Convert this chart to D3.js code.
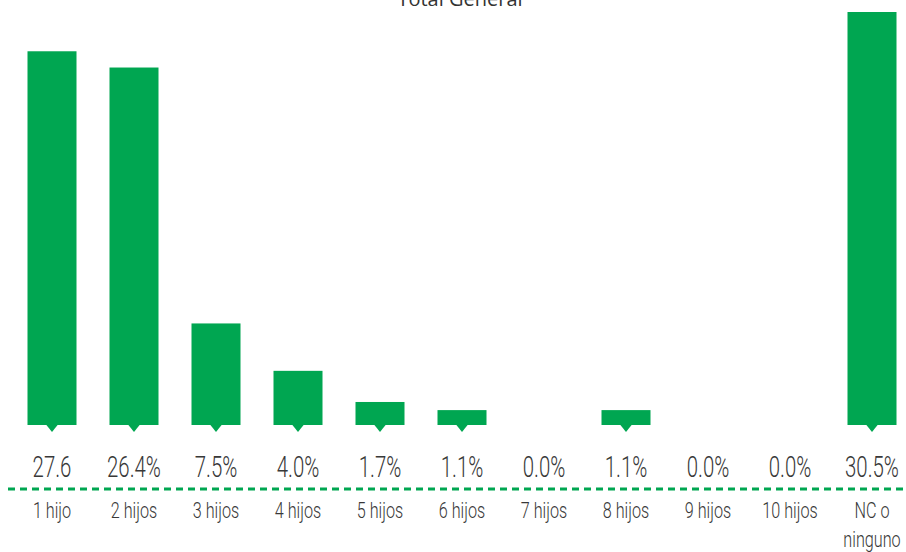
<!DOCTYPE html>
<html><head><meta charset="utf-8">
<script src="https://cdn.jsdelivr.net/npm/d3@7"></script>
<style>body{margin:0;background:#fff}svg{display:block}</style>
</head><body>
<svg id="c" width="906" height="552"></svg>
<script>
const categories = ["1 hijo","2 hijos","3 hijos","4 hijos","5 hijos","6 hijos","7 hijos","8 hijos","9 hijos","10 hijos","NC o ninguno"];
const values = [27.6,26.4,7.5,4.0,1.7,1.1,0.0,1.1,0.0,0.0,30.5];
const valueLabels = ["27.6","26.4%","7.5%","4.0%","1.7%","1.1%","0.0%","1.1%","0.0%","0.0%","30.5%"];
const title = "Total General";

const svg = d3.select("#c");
const green = "#00a651", textCol = "#383838";
const x = d3.scaleBand().domain(categories).range([11, 913]).paddingInner(0.4).paddingOuter(0.2);
const y = d3.scaleLinear().domain([0, 30.5]).range([425, 12]);
const bw = 49;

svg.append("text").attr("x", 460).attr("y", 6).attr("text-anchor","middle")
  .attr("font-family","Open Sans").attr("font-size",20).attr("fill","#333").text(title);

const g = svg.selectAll("g.bar").data(categories).join("g").attr("class","bar");
g.filter((d,i)=>values[i]>0).append("rect")
  .attr("x", d => x(d) + x.bandwidth()/2 - bw/2)
  .attr("y", (d,i) => y(values[categories.indexOf(d)]))
  .attr("width", bw)
  .attr("height", d => y(0) - y(values[categories.indexOf(d)]))
  .attr("fill", green);
g.filter((d,i)=>values[i]>0).append("path")
  .attr("d", d => { const cx = x(d)+x.bandwidth()/2, b = y(0); return `M${cx-6},${b-0.5}L${cx+6},${b-0.5}L${cx},${b+7}Z`; })
  .attr("fill", green);

function condText(sel, cx, cy, str, size, sx){
  sel.append("g").attr("transform",`translate(${cx},${cy}) scale(${sx},1)`)
    .append("text").attr("text-anchor","middle").attr("font-family","Roboto").attr("font-weight",300)
    .attr("font-size",size).attr("fill",textCol).text(str);
}
categories.forEach((c,i)=>{
  const cx = x(c)+x.bandwidth()/2;
  condText(svg, cx, 477, valueLabels[i], 30, 0.68);
  if (c === "NC o ninguno") {
    condText(svg, cx, 518, "NC o", 22.5, 0.72);
    condText(svg, cx, 547, "ninguno", 22.5, 0.72);
  } else {
    condText(svg, cx, 518, c, 22.5, 0.72);
  }
});

svg.append("line").attr("x1",8).attr("x2",906).attr("y1",489).attr("y2",489)
  .attr("stroke",green).attr("stroke-width",3).attr("stroke-dasharray","7,5");
</script>
</body></html>
